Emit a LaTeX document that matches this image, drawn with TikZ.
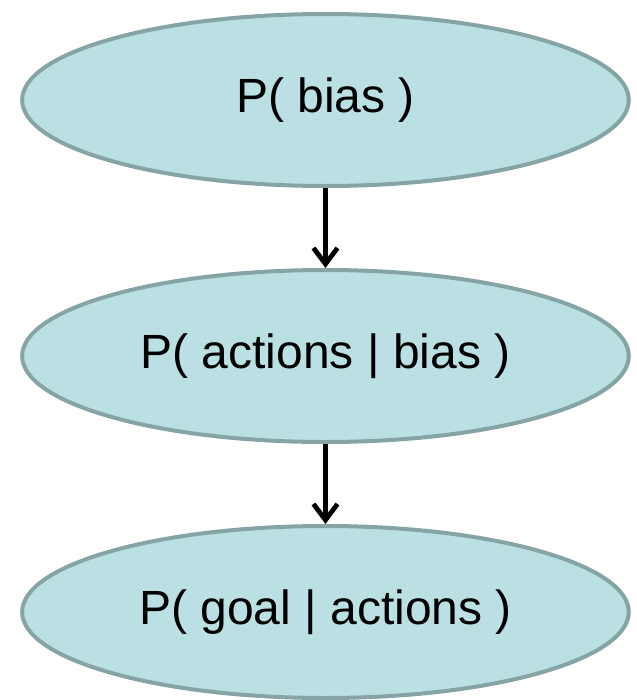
\documentclass[tikz,border=0pt]{standalone}
\usepackage{fontspec}
\setmainfont{Liberation Sans}
\usetikzlibrary{positioning,shapes,arrows.meta}

\definecolor{nodefill}{HTML}{BAE0E3}
\definecolor{nodeline}{HTML}{86A4A6}

\begin{document}
\begin{tikzpicture}[
		  node distance=60pt and 0cm,
		  probnode/.style={draw=nodeline,fill=nodefill,ellipse,line width=3pt,
		    minimum width=455pt,minimum height=129pt,inner sep=0pt,
		    font=\fontsize{36}{40}\selectfont},
		  arr/.style={-{Straight Barb[length=12pt,width=18pt]},line width=3.6pt,black}
		]
		\useasboundingbox (-244.1pt,75pt) rectangle (233.6pt,-450pt);
		\node[probnode] (Bias) at (0,0) {P( bias )};
		\node[probnode, below=of Bias] (Actions) {P( actions | bias )};
		\node[probnode, below=of Actions] (Goal) {P( goal | actions )};
		\path (Bias) edge[arr] (Actions)
			(Actions) edge[arr] (Goal);
		\end{tikzpicture}
\end{document}
